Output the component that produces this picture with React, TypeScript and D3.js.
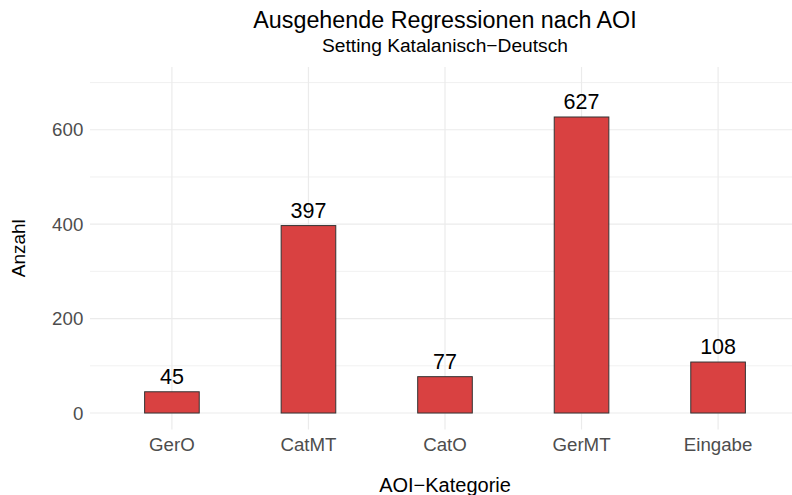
import React from "react";
import * as d3 from "d3";

const categories = ["GerO", "CatMT", "CatO", "GerMT", "Eingabe"];
const counts = [45, 397, 77, 627, 108];
const yTicks = [0, 200, 400, 600];
const yMinor = [100, 300, 500, 700];

const W = 792, H = 495;
const FONT = "'Liberation Sans', Arial, sans-serif";

export default function App() {
  const panelLeft = 90, panelRight = 800;
  const panelTop = 67, panelBottom = 429.5;
  const step = (panelRight - panelLeft) / (categories.length - 1 + 1.2);
  const x = d3.scalePoint<string>().domain(categories)
    .range([panelLeft + 0.6 * step, panelRight - 0.6 * step]);
  const cx = (c: string) => x(c) as number;
  const y = d3.scaleLinear().domain([-34.9, 732.9]).range([panelBottom, panelTop]);
  const bw = 0.4 * step;
  const midX = (panelLeft + panelRight) / 2;

  return (
    <svg width={W} height={H} style={{ position: "absolute", left: 0, top: 0, background: "#fff" }} fontFamily={FONT}>
      <rect width={W} height={H} fill="#fff" />
      {yMinor.map((t) => (
        <line key={"m" + t} x1={panelLeft} x2={panelRight} y1={y(t)} y2={y(t)} stroke="#EBEBEB" strokeWidth={0.7} />
      ))}
      {yTicks.map((t) => (
        <line key={"M" + t} x1={panelLeft} x2={panelRight} y1={y(t)} y2={y(t)} stroke="#EBEBEB" strokeWidth={1.2} />
      ))}
      {categories.map((c) => (
        <line key={"v" + c} x1={cx(c)} x2={cx(c)} y1={panelTop} y2={panelBottom} stroke="#EBEBEB" strokeWidth={1.2} />
      ))}
      {categories.map((c, i) => (
        <rect key={"b" + c} x={cx(c) - bw / 2} y={y(counts[i])} width={bw} height={y(0) - y(counts[i])}
          fill="#D94141" stroke="#333333" strokeWidth={1} />
      ))}
      {categories.map((c, i) => (
        <text key={"l" + c} x={cx(c)} y={y(counts[i]) - 7.8} textAnchor="middle" fontSize={21.5} fill="#000">{counts[i]}</text>
      ))}
      {yTicks.map((t) => (
        <text key={"yt" + t} x={83.3} y={y(t) + 6.6} textAnchor="end" fontSize={18.7} fill="#4D4D4D">{t}</text>
      ))}
      {categories.map((c) => (
        <text key={"xt" + c} x={cx(c)} y={451} textAnchor="middle" fontSize={18.7} fill="#4D4D4D">{c}</text>
      ))}
      <text x={midX} y={492} textAnchor="middle" fontSize={20} fill="#000">AOI−Kategorie</text>
      <text transform={`translate(25,${(panelTop + panelBottom) / 2}) rotate(-90)`} textAnchor="middle" fontSize={19} fill="#000">Anzahl</text>
      <text x={midX} y={28.3} textAnchor="middle" fontSize={23.3} fill="#000">Ausgehende Regressionen nach AOI</text>
      <text x={midX} y={51.7} textAnchor="middle" fontSize={19.2} fill="#000">Setting Katalanisch−Deutsch</text>
    </svg>
  );
}
